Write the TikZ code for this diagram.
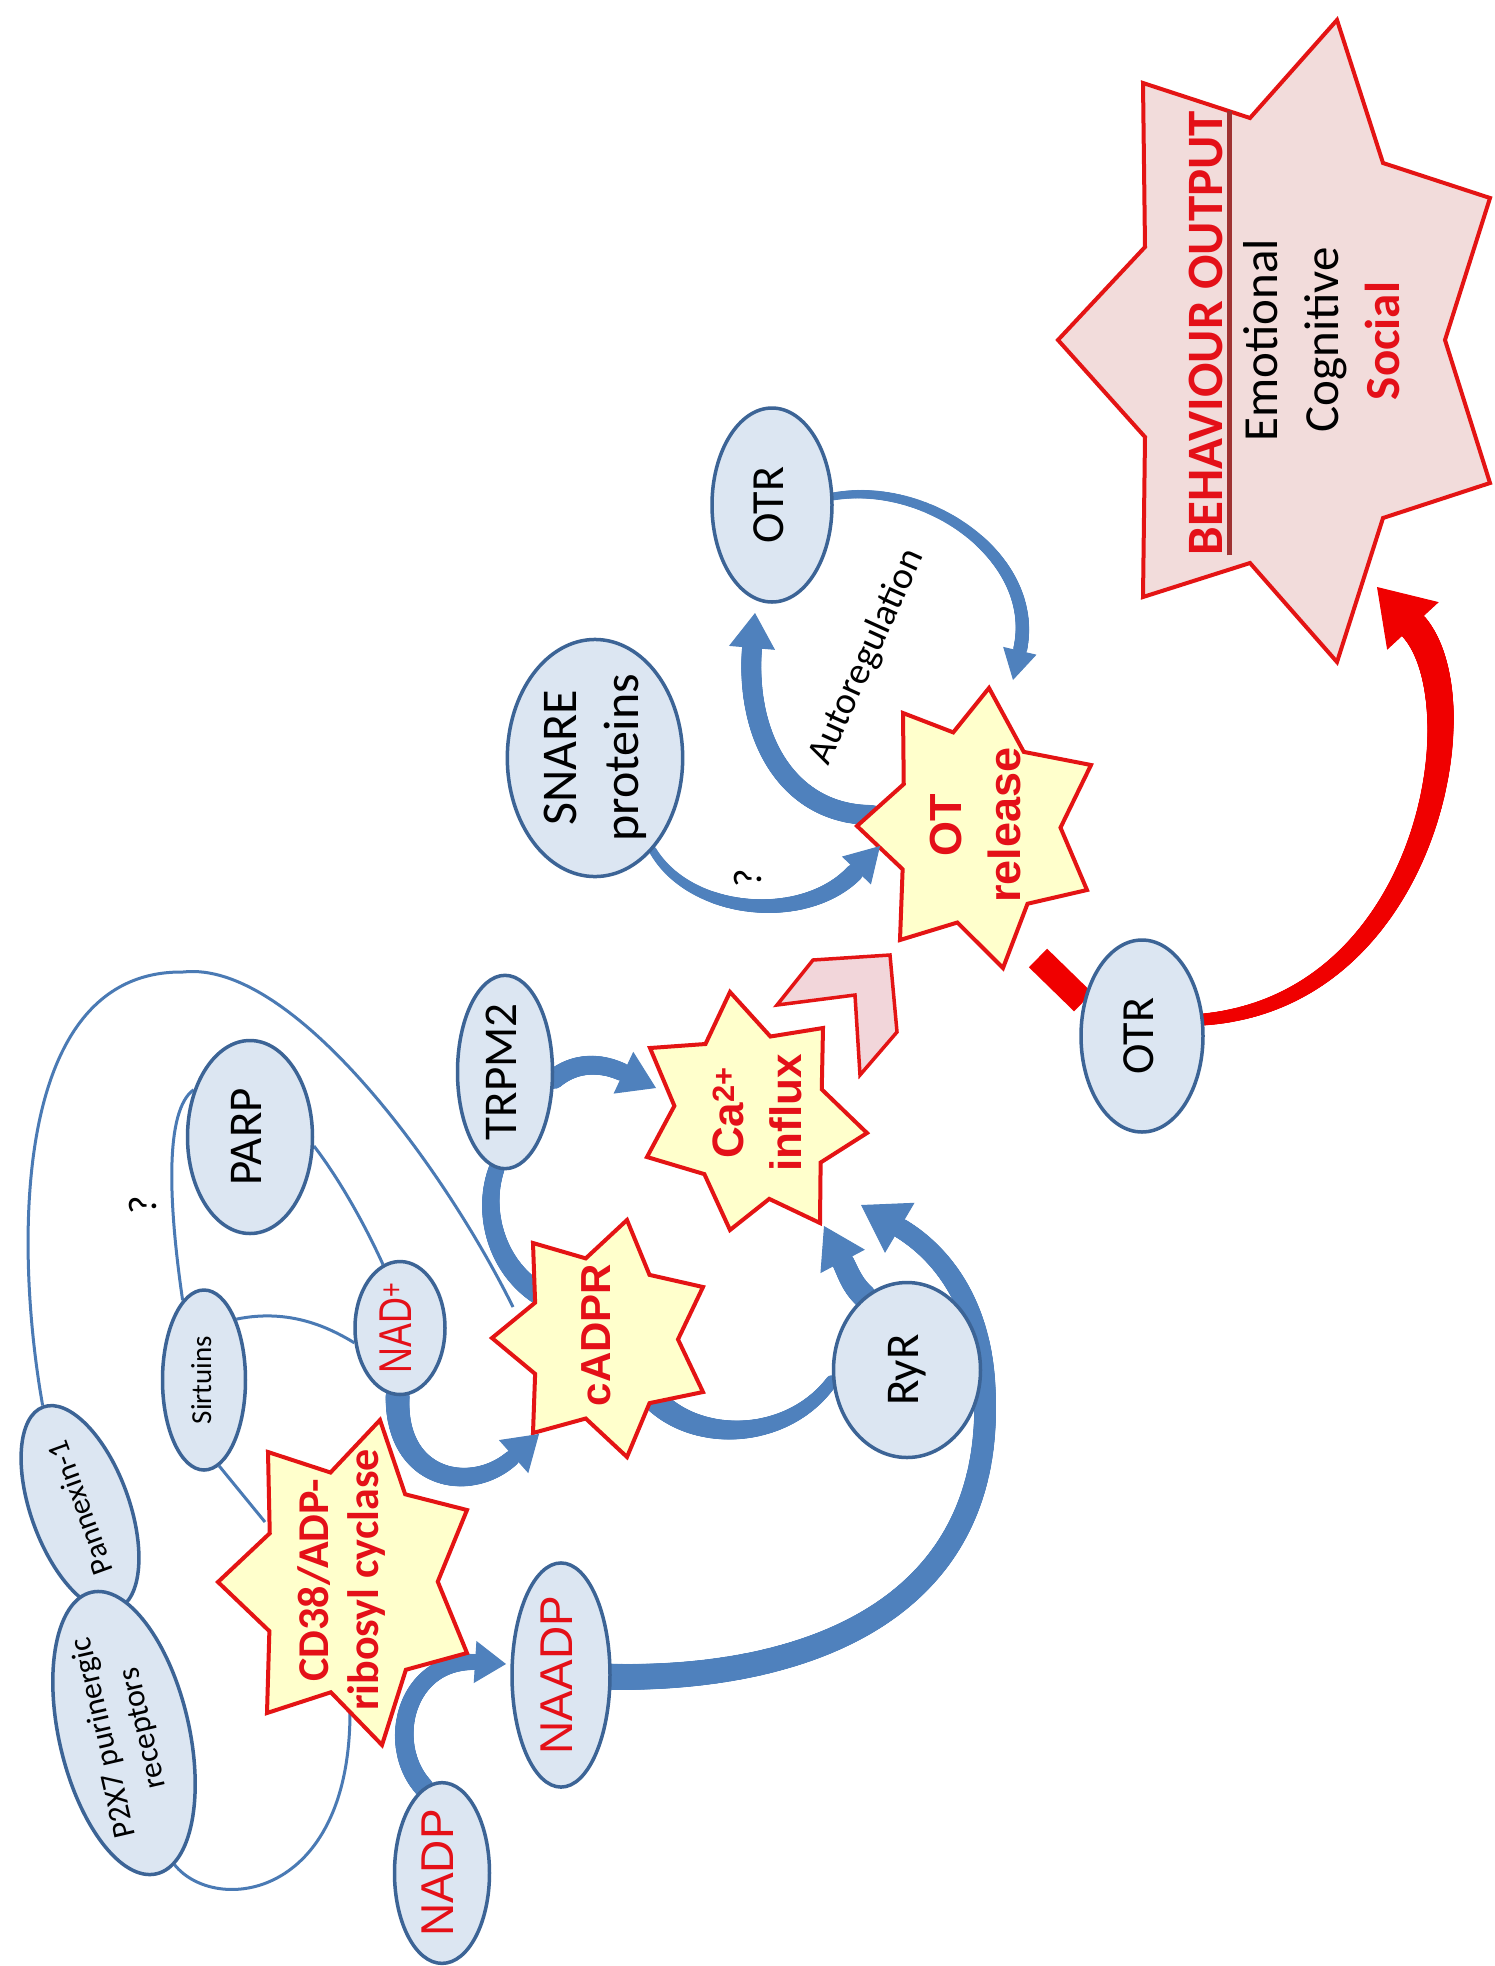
\documentclass[tikz,border=0pt]{standalone}
\usepackage{graphicx}
\usepackage{fontspec}
\setmainfont{Carlito}
\newfontfamily\arialf{Liberation Sans}
\usetikzlibrary{shapes.geometric,arrows.meta,calc,decorations.markings}
\definecolor{ellF}{RGB}{220,230,242}
\definecolor{ellB}{RGB}{60,100,150}
\definecolor{lineB}{RGB}{74,122,180}
\definecolor{arrB}{RGB}{79,129,189}
\definecolor{starF}{RGB}{255,255,204}
\definecolor{starB}{RGB}{228,20,20}
\definecolor{redT}{RGB}{228,16,24}
\definecolor{behF}{RGB}{242,220,219}
\definecolor{chevF}{RGB}{242,214,218}
\definecolor{ulc}{RGB}{160,50,50}
\definecolor{redA}{RGB}{240,0,0}
\newcommand\fsz[2]{\fontsize{#1}{#2}\selectfont}
\newcommand\vtx[1]{\rotatebox{90}{\begin{tabular}{@{}c@{}}#1\end{tabular}}}
\newcommand\sevstar[9]{\draw[#1] (#3) -- ($.25*(#2)+.375*(#3)+.375*(#4)$) -- (#4) -- ($.25*(#2)+.375*(#4)+.375*(#5)$) -- (#5) -- ($.25*(#2)+.375*(#5)+.375*(#6)$) -- (#6) -- ($.25*(#2)+.375*(#6)+.375*(#7)$) -- (#7) -- ($.25*(#2)+.375*(#7)+.375*(#8)$) -- (#8) -- ($.25*(#2)+.375*(#8)+.375*(#9)$) -- (#9) -- ($.25*(#2)+.375*(#9)+.375*(#3)$) -- cycle;}
\pgfdeclarelayer{bgl}\pgfdeclarelayer{starl}\pgfdeclarelayer{headl}
\pgfsetlayers{bgl,starl,headl,main}
\tikzset{
  ell/.style={ellipse, draw=ellB, fill=ellF, line width=3.5pt, inner sep=0pt},
  thinl/.style={draw=lineB, line width=3pt},
  starsty/.style={draw=starB, fill=starF, line width=4pt, line join=miter},
  txt/.style={inner sep=0pt},
  taper/.style n args={3}{postaction={decorate,decoration={markings,
    mark=between positions 0 and 1 step 1.2pt with {%
      \pgfmathsetmacro\tw{(#2)+((#3)-(#2))*\pgfkeysvalueof{/pgf/decoration/mark info/distance from start}/\pgfdecoratedpathlength}%
      \fill[#1] (0,0) circle[radius=\tw*0.5pt];}}}},
  arrhead/.style n args={3}{draw=#1, fill=#1, line width=1pt, -{Triangle[length=#2pt, width=#3pt]}}
}
\begin{document}
\begin{tikzpicture}[x=1pt,y=1pt]
\useasboundingbox (0,0) rectangle (1495,-1966);
% ---------- ellipse nodes ----------
\node[ell, minimum width=120pt, minimum height=194pt, font=\fsz{46}{56}] (otrA) at (772,-505) {\vtx{OTR}};
\node[ell, minimum width=175pt, minimum height=233pt, font=\fsz{50}{62}] (snare) at (595,-758) {\vtx{SNARE\\proteins}};
\node[ell, minimum width=125pt, minimum height=193pt, font=\fsz{47}{56}] (parp) at (250,-1137) {\vtx{PARP}};
\node[ell, minimum width=83pt, minimum height=180pt, font=\fsz{29}{35}] (sirt) at (204,-1380) {\vtx{Sirtuins}};
\node[ell, minimum width=90pt, minimum height=133pt, font=\arialf\fsz{46}{56}, text=redT] (nad) at (400,-1328) {\vtx{\scalebox{0.78}[1]{NAD\textsuperscript{+}}}};
\node[ell, minimum width=95pt, minimum height=193pt, font=\fsz{47}{56}] (trpm) at (505,-1072) {\vtx{TRPM2}};
\node[ell, minimum width=147pt, minimum height=175pt, font=\fsz{47}{56}] (ryr) at (907,-1370) {\vtx{RyR}};
\node[ell, minimum width=122pt, minimum height=192pt, font=\fsz{46}{56}] (otrB) at (1142,-1036) {\vtx{OTR}};
\node[ell, minimum width=98pt, minimum height=190pt, font=\arialf\fsz{46}{56}, text=redT] (naadp) at (561,-1675) {\vtx{NAADP}};
\node[ell, minimum width=95pt, minimum height=170pt, font=\arialf\fsz{46}{56}, text=redT] (nadp) at (442,-1873) {\vtx{NADP}};
\node[ell, rotate=110, minimum width=215pt, minimum height=98pt, font=\fsz{31}{36}] (pann) at (80,-1508) {Pannexin-1};
\node[ell, rotate=103, minimum width=275pt, minimum height=130pt, align=center, font=\fsz{32}{40}] (p2x7) at (124,-1733) {P2X7 purinergic\\receptors};
% ---------- star texts ----------
\node[txt, rotate=90, font=\bfseries\fsz{44}{50}, text=redT, align=center] (cd) at (342,-1580) {CD38/ADP-\\ribosyl cyclase};
\node[txt, rotate=90, font=\arialf\bfseries\fsz{42}{50}, text=redT] (cadpr) at (596,-1335) {cADPR};
\node[txt, rotate=90, font=\arialf\bfseries\fsz{44}{58}, text=redT, align=center] (ca) at (757,-1113) {Ca\textsuperscript{2+}\\influx};
\node[txt, rotate=90, font=\arialf\bfseries\fsz{45}{59}, text=redT, align=center] (otrel) at (975,-825) {OT\\release};
\node[txt, rotate=90, anchor=base, font=\bfseries\fsz{51}{60}, text=redT] (beh) at (1222,-333) {BEHAVIOUR OUTPUT};
\node[txt, rotate=90, anchor=base, font=\fsz{49}{60}] (emo) at (1277,-340) {Emotional};
\node[txt, rotate=90, anchor=base, font=\fsz{49}{60}] (cog) at (1338,-340) {Cognitive};
\node[txt, rotate=90, anchor=base, font=\bfseries\fsz{49}{60}, text=redT] (soc) at (1399,-341) {Social};
\draw[ulc, line width=5pt] ($(beh.base west)+(7,0)$) -- ($(beh.base east)+(7,0)$);
\node[txt, rotate=90, font=\fsz{40}{48}] (q1) at (143,-1205) {?};
\node[txt, rotate=90, font=\fsz{40}{48}] (q2) at (748,-878) {?};
\node[txt, rotate=65.6, font=\fsz{38}{46}] (auto) at (867,-657) {Autoregulation};
% ---------- coordinates ----------
\coordinate (cdA) at (265,-1522);
\coordinate (cdB) at (350,-1712);
\coordinate (cdpA) at (513,-1307);
\coordinate (cdpB) at (538,-1293);
\coordinate (cdpC) at (655,-1400);
\coordinate (otA) at (872,-815);
\coordinate (otB) at (1038,-958);
\coordinate (hA) at (512,-1458); \coordinate (tA) at (539,-1434);
\coordinate (hB) at (475,-1662); \coordinate (tB) at (506,-1664);
\coordinate (hC) at (900,-1228); \coordinate (tC) at (861,-1205);
\coordinate (hD) at (843,-1262); \coordinate (tD) at (824,-1226);
\coordinate (hE) at (622,-1072); \coordinate (tE) at (656,-1088);
\coordinate (hF) at (855,-872);  \coordinate (tF) at (880,-846);
\coordinate (hG) at (752,-648);  \coordinate (tG) at (755,-613);
\coordinate (hH) at (1020,-650); \coordinate (tH) at (1013,-680);
\coordinate (hI) at (1413,-626); \coordinate (tI) at (1377,-587);
% ---------- background: lines and shafts ----------
\begin{pgfonlayer}{bgl}
\fill[white] (0,0) rectangle (1495,-1966);
\draw[thinl] (pann.east) .. controls (15,-1250) and (10,-970) .. (183,-972) .. controls (290,-960) and (440,-1160) .. (cdpA);
\draw[thinl] (sirt.105) .. controls (168,-1200) and (165,-1110) .. (parp.140);
\draw[thinl] (parp.-8) .. controls (340,-1180) and (365,-1225) .. (nad.105);
\draw[thinl] (sirt.62) .. controls (290,-1308) and (330,-1328) .. (nad.198);
\draw[thinl] (sirt.-80) -- (cdA);
\draw[thinl] (p2x7.188) .. controls (215,-1915) and (350,-1900) .. (cdB);
\path[taper={arrB}{24}{16}] (nad.-92) .. controls (395,-1480) and (470,-1495) .. (hA);
\path[taper={arrB}{20}{16}] (nadp.102) .. controls (385,-1745) and (405,-1660) .. (hB);
\path[taper={arrB}{26}{20}] (naadp.-2) .. controls (790,-1680) and (990,-1620) .. (985,-1400) .. controls (985,-1310) and (945,-1255) .. (hC);
\path[taper={arrB}{24}{22}] (ryr.120) .. controls (852,-1285) and (848,-1272) .. (hD);
\path[taper={arrB}{20}{18}] (trpm.-8) .. controls (575,-1062) and (600,-1062) .. (hE);
\path[taper={arrB}{16}{22}] (trpm.-95) .. controls (482,-1210) and (495,-1265) .. (cdpB);
\path[taper={arrB}{24}{12}] (cdpC) .. controls (700,-1445) and (790,-1440) .. (ryr.188);
\path[taper={arrB}{8}{18}] (snare.-58) .. controls (690,-915) and (805,-925) .. (hF);
\path[taper={arrB}{20}{20}] (otA) .. controls (790,-815) and (745,-740) .. (hG);
\path[taper={arrB}{8}{14}] (otrA.8) .. controls (930,-480) and (1040,-560) .. (hH);
\draw[redA, line width=26pt] (otB) -- (otrB.150);
\path[taper={redA}{12}{30}] (otrB.15) .. controls (1430,-1000) and (1480,-700) .. (hI);
\end{pgfonlayer}
% ---------- stars ----------
\begin{pgfonlayer}{starl}
\draw[draw=starB, fill=behF, line width=4pt, line join=miter] (1143,-83) -- (1250,-118) -- (1337,-20) -- (1383,-163) -- (1490,-198) -- (1445,-340) -- (1490,-483) -- (1383,-518) -- (1337,-662) -- (1250,-563) -- (1143,-597) -- (1145,-437) -- (1058,-340) -- (1145,-247) -- cycle;
\sevstar{starsty}{975,-828}{857,-826}{903,-713}{989,-688}{1091,-765}{1087,-890}{1003,-968}{900,-940}
\sevstar{starsty}{752,-1116}{650,-1048}{730,-992}{823,-1028}{867,-1133}{820,-1223}{730,-1230}{647,-1157}
\sevstar{starsty}{603,-1339}{492,-1338}{533,-1243}{627,-1220}{703,-1287}{703,-1392}{627,-1457}{533,-1433}
\sevstar{starsty}{350,-1582}{218,-1582}{268,-1452}{380,-1420}{467,-1510}{467,-1653}{382,-1745}{267,-1713}
\draw[draw=starB, fill=chevF, line width=3.5pt, line join=miter] (813,-960) -- (890,-955) -- (897,-1032) -- (860,-1075) -- (855,-995) -- (777,-1005) -- cycle;
\end{pgfonlayer}
% ---------- arrow heads ----------
\begin{pgfonlayer}{headl}
\draw[arrhead={arrB}{34}{44}] (hA) -- (tA);
\draw[arrhead={arrB}{31}{42}] (hB) -- (tB);
\draw[arrhead={arrB}{45}{58}] (hC) -- (tC);
\draw[arrhead={arrB}{40}{50}] (hD) -- (tD);
\draw[arrhead={arrB}{36}{46}] (hE) -- (tE);
\draw[arrhead={arrB}{34}{40}] (hF) -- (tF);
\draw[arrhead={arrB}{35}{46}] (hG) -- (tG);
\draw[arrhead={arrB}{30}{34}] (hH) -- (tH);
\draw[arrhead={redA}{53}{70}] (hI) -- (tI);
\end{pgfonlayer}
\end{tikzpicture}
\end{document}
